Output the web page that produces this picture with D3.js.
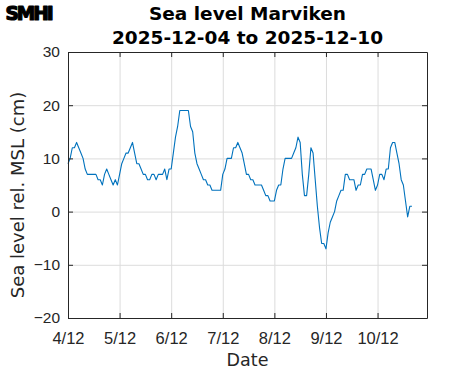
<!DOCTYPE html>
<html>
<head>
<meta charset="utf-8">
<script src="https://cdn.jsdelivr.net/npm/d3@7"></script>
<style>
    body { margin: 0; background: #fff; }
    svg { display: block; font-family: "DejaVu Sans", sans-serif; }
    .axis path, .axis line { stroke: #262626; }
    .axis text { fill: #262626; font-size: 15px; }
    .grid line { stroke: #dcdcdc; }
    .grid path { display: none; }
</style>
</head>
<body>
<div class="container"></div>
<script>
// hourly sea level (cm, rel. MSL), first value at 2025-12-04 00:00
const startTime = new Date(2025, 11, 4, 0);
const endTime = new Date(2025, 11, 10, 23);
const seaLevel = [
    9, 10, 12, 12, 13, 12, 11, 10, 8, 7, 7, 7, 7, 7, 6, 6, 5, 7, 8, 7, 6, 5, 6, 5,
    7, 9, 10, 11, 11, 12, 13, 11, 9, 9, 8, 7, 7, 6, 6, 7, 7, 6, 7, 7, 7, 8, 6, 8,
    8, 11, 14, 16, 19, 19, 19, 19, 19, 16, 15, 11, 9, 8, 7, 6, 6, 5, 5, 4, 4, 4, 4, 4,
    7, 8, 10, 10, 10, 12, 12, 13, 12, 11, 9, 7, 7, 6, 6, 5, 5, 5, 5, 4, 3, 3, 2, 2,
    2, 4, 5, 5, 8, 10, 10, 10, 10, 11, 12, 14, 13, 7, 3, 3, 7, 12, 11, 6, 1, -3, -6, -6,
    -7, -4, -2, -1, 0, 2, 3, 4, 4, 7, 7, 6, 6, 6, 4, 5, 5, 7, 7, 8, 8, 8, 6, 4,
    5, 7, 7, 6, 8, 8, 12, 13, 13, 11, 9, 6, 5, 2, -1, 1, 1
];
const yTicks = [-20, -10, 0, 10, 20, 30];
const titleLines = ['Sea level Marviken', '2025-12-04 to 2025-12-10'];

const w = 471, h = 371,
    padding = { top: 52, bottom: 53, left: 68, right: 44 };

const dataset = seaLevel.map((v, i) => ({ time: d3.timeHour.offset(startTime, i), level: v }));

const xScale = d3.scaleTime()
    .domain([startTime, endTime])
    .range([padding.left, w - padding.right]);

const yScale = d3.scaleLinear()
    .domain([-20, 30])
    .range([h - padding.bottom, padding.top]);

const plotW = w - padding.left - padding.right,
    plotH = h - padding.top - padding.bottom;

const dayTicks = d3.timeDay.range(startTime, d3.timeHour.offset(endTime, 1));

const svg = d3.select("div.container")
    .append("svg")
    .attr("width", w)
    .attr("height", h);

// grid
svg.append("g")
    .attr("class", "grid")
    .attr("transform", "translate(0," + (h - padding.bottom) + ")")
    .call(d3.axisBottom(xScale).tickValues(dayTicks).tickSize(-plotH).tickFormat(""));

svg.append("g")
    .attr("class", "grid")
    .attr("transform", "translate(" + padding.left + ",0)")
    .call(d3.axisLeft(yScale).tickValues(yTicks).tickSize(-plotW).tickFormat(""));

// the series
const line = d3.line()
    .x(d => xScale(d.time))
    .y(d => yScale(d.level));

svg.append("path")
    .datum(dataset)
    .attr("fill", "none")
    .attr("stroke", "#0072bd")
    .attr("stroke-width", 1.1)
    .attr("stroke-linejoin", "round")
    .attr("d", line);

// box with inward ticks on all sides
svg.append("g")
    .attr("class", "axis")
    .attr("transform", "translate(0," + (h - padding.bottom) + ")")
    .call(d3.axisBottom(xScale)
        .tickValues(dayTicks)
        .tickSizeInner(-5).tickSizeOuter(0)
        .tickPadding(14)
        .tickFormat(d3.timeFormat("%-d/%m")))
    .selectAll("text")
    .style("font-size", "16.5px");

svg.append("g")
    .attr("class", "axis")
    .attr("transform", "translate(0," + padding.top + ")")
    .call(d3.axisTop(xScale).tickValues(dayTicks).tickSizeInner(-5).tickSizeOuter(0).tickFormat(""));

svg.append("g")
    .attr("class", "axis")
    .attr("transform", "translate(" + padding.left + ",0)")
    .call(d3.axisLeft(yScale)
        .tickValues(yTicks)
        .tickSizeInner(-5).tickSizeOuter(0)
        .tickPadding(8)
        .tickFormat(d => d < 0 ? "\u2212" + Math.abs(d) : d))
    .selectAll("text")
    .style("font-size", "15.5px");

svg.append("g")
    .attr("class", "axis")
    .attr("transform", "translate(" + (w - padding.right) + ",0)")
    .call(d3.axisRight(yScale).tickValues(yTicks).tickSizeInner(-5).tickSizeOuter(0).tickFormat(""));

// axis names
svg.append("text")
    .text("Date")
    .attr("x", padding.left + plotW / 2)
    .attr("y", 366)
    .attr("text-anchor", "middle")
    .attr("fill", "#262626")
    .style("font-size", "17.5px");

svg.append("text")
    .text("Sea level rel. MSL (cm)")
    .attr("transform", "translate(24,195) rotate(-90)")
    .attr("text-anchor", "middle")
    .attr("fill", "#262626")
    .style("font-size", "18px");

// title
svg.append("g")
    .selectAll("text")
    .data(titleLines)
    .enter()
    .append("text")
    .text(d => d)
    .attr("x", padding.left + plotW / 2)
    .attr("y", (d, i) => 20 + i * 23.5)
    .attr("text-anchor", "middle")
    .attr("font-weight", "bold")
    .attr("fill", "#000")
    .style("font-size", "18.5px");

// logo
svg.append("text")
    .text("SMHI")
    .attr("x", 5.5)
    .attr("y", 19.5)
    .attr("textLength", 46)
    .attr("lengthAdjust", "spacingAndGlyphs")
    .attr("font-weight", "900")
    .style("font-family", "'DejaVu Sans Condensed', 'DejaVu Sans', sans-serif")
    .style("font-size", "20px")
    .style("letter-spacing", "-2px")
    .attr("fill", "#000")
    .attr("stroke", "#000")
    .attr("stroke-width", 1.2)
    .attr("stroke-linejoin", "round");
</script>
</body>
</html>
